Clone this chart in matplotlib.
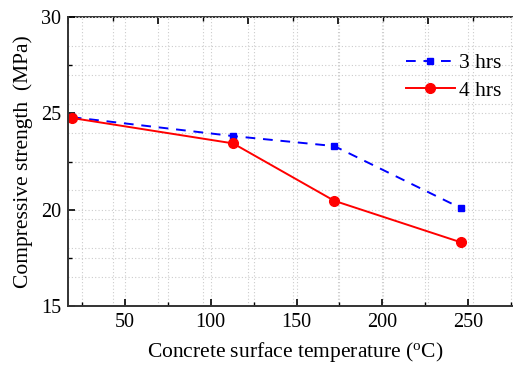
import matplotlib
matplotlib.use("Agg")
import matplotlib.pyplot as plt
from matplotlib.ticker import MultipleLocator

# values
temp = [19, 113, 172, 246]
hrs3 = [24.8, 23.82, 23.30, 20.07]
hrs4 = [24.76, 23.44, 20.46, 18.30]
labels = ["3 hrs", "4 hrs"]

plt.rcParams["font.family"] = ["Liberation Serif", "DejaVu Serif"]
plt.rcParams["mathtext.fontset"] = "stix"

fig = plt.figure(figsize=(5.13, 3.67), dpi=100)
W, H = 513.0, 367.0
x0, x1, y0, y1 = 68, 522, 306, 17
ax = fig.add_axes([x0 / W, (H - y0) / H, (x1 - x0) / W, (y0 - y1) / H])

# secondary frames that only carry the offset grid (as in the original figure)
ax_top = ax.twiny()
ax_right = ax.twinx()
for a in (ax_top, ax_right):
    a.set_zorder(0)
    a.patch.set_visible(False)
ax.set_zorder(2)
ax.patch.set_visible(False)

grid_kw = dict(color="#cccccc", linestyle=(0, (1, 2)), linewidth=0.8)

ax_top.set_xlim(0, (x1 - x0) / 45.0)
ax_top.xaxis.set_major_locator(MultipleLocator(2))
ax_top.xaxis.set_minor_locator(MultipleLocator(1))
ax_top.set_xticklabels([])
ax_top.tick_params(axis="x", which="major", direction="in", length=5, width=1.2, top=True)
ax_top.tick_params(axis="x", which="minor", direction="in", length=3, width=1.0, top=True)
ax_top.grid(True, which="both", axis="x", **grid_kw)

ax_right.set_ylim(0, 10)
ax_right.yaxis.set_major_locator(MultipleLocator(1))
ax_right.set_yticklabels([])
ax_right.tick_params(axis="y", right=False, length=0)
ax_right.grid(True, which="major", axis="y", **grid_kw)

for a in (ax_top, ax_right):
    for s in a.spines.values():
        s.set_visible(False)

ax.plot(temp, hrs3, color="#0000ff", linestyle=(0, (5, 4)), linewidth=1.4,
        marker="s", markersize=4, label=labels[0])
ax.plot(temp, hrs4, color="#ff0000", linestyle="-", linewidth=1.4,
        marker="o", markersize=7, label=labels[1])

ax.set_xlim(16.8, 281.4)
ax.set_ylim(15, 30)
ax.xaxis.set_major_locator(MultipleLocator(50))
ax.xaxis.set_minor_locator(MultipleLocator(25))
ax.yaxis.set_major_locator(MultipleLocator(5))
ax.yaxis.set_minor_locator(MultipleLocator(2.5))
ax.tick_params(which="major", direction="in", length=5, width=1.2,
               labelsize=14.5, top=False, right=False, pad=5)
ax.tick_params(which="minor", direction="in", length=3, width=1.0,
               top=False, right=False)
ax.grid(True, which="both", **grid_kw)

for name in ("left", "bottom"):
    ax.spines[name].set_linewidth(1.4)
    ax.spines[name].set_color("#333333")
ax.spines["top"].set_visible(False)
ax.spines["right"].set_visible(False)
ax_top.spines["top"].set_visible(True)
ax_top.spines["top"].set_linewidth(1.4)
ax_top.spines["top"].set_color("#333333")

ax.set_xlabel(r"Concrete surface temperature ($\mathregular{^o}$C)", fontsize=15.5, labelpad=6)
ax.set_ylabel("Compressive strength  (MPa)", fontsize=15.5, labelpad=6)

ax.legend(loc="upper left", bbox_to_anchor=((397 - x0) / (x1 - x0), 0.905),
          frameon=False, fontsize=15.5, handlelength=2.3, handletextpad=0.2,
          borderaxespad=0, labelspacing=0.35)

fig.savefig("out.png", dpi=100)
